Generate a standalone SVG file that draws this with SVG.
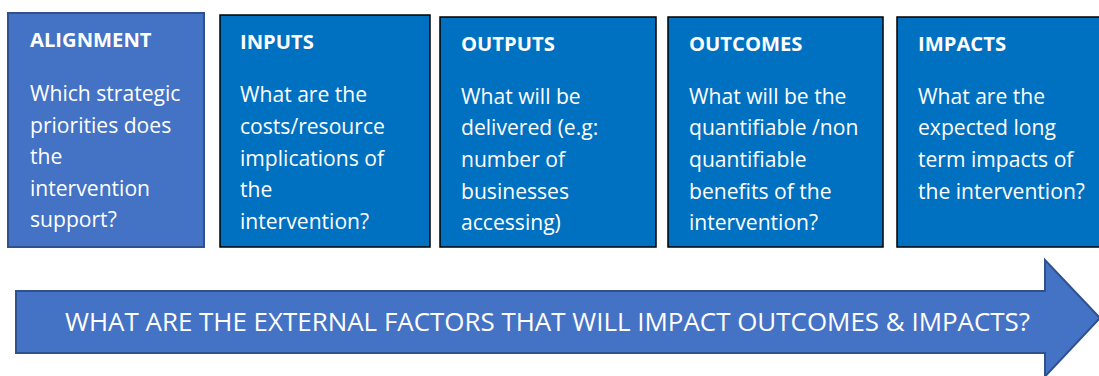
<svg xmlns="http://www.w3.org/2000/svg" width="1099" height="376" viewBox="0 0 1099 376">
<style>
.bg{fill:#ffffff}
.box{fill:#0070C0;stroke:#000000;stroke-width:1.5}
.box-align{fill:#4472C4;stroke:#2F528F;stroke-width:2}
.arrow{fill:#4472C4;stroke:#2F528F;stroke-width:2}
.title{font-family:"Open Sans","Liberation Sans",sans-serif;font-weight:bold;font-size:20.2px;fill:#ffffff}
.body{font-family:"Open Sans","Liberation Sans",sans-serif;font-size:21.1px;fill:#ffffff}
.banner{font-family:"Open Sans","Liberation Sans",sans-serif;font-size:25px;fill:#ffffff}
</style>
<rect class="bg" x="0" y="0" width="1099" height="376"/>
<g id="alignment">
<rect class="box-align" x="8" y="13" width="196" height="234"/>
<text class="title" x="30" y="47">ALIGNMENT</text>
<text class="body" x="30" y="101">Which strategic</text>
<text class="body" x="30" y="132.5">priorities does</text>
<text class="body" x="30" y="164">the</text>
<text class="body" x="30" y="195.5">intervention</text>
<text class="body" x="30" y="227">support?</text>
</g>
<g id="inputs">
<rect class="box" x="220" y="15" width="210" height="232"/>
<text class="title" x="240" y="49">INPUTS</text>
<text class="body" x="240" y="102">What are the</text>
<text class="body" x="240" y="133.5">costs/resource</text>
<text class="body" x="240" y="165.5">implications of</text>
<text class="body" x="240" y="197">the</text>
<text class="body" x="240" y="229">intervention?</text>
</g>
<g id="outputs">
<rect class="box" x="440" y="17" width="216" height="230"/>
<text class="title" x="461" y="51">OUTPUTS</text>
<text class="body" x="461" y="103.5">What will be</text>
<text class="body" x="461" y="135">delivered (e.g:</text>
<text class="body" x="461" y="166.5">number of</text>
<text class="body" x="461" y="198.5">businesses</text>
<text class="body" x="461" y="230">accessing)</text>
</g>
<g id="outcomes">
<rect class="box" x="668" y="17" width="215" height="230"/>
<text class="title" x="689" y="51">OUTCOMES</text>
<text class="body" x="689" y="103.5">What will be the</text>
<text class="body" x="689" y="135">quantifiable /non</text>
<text class="body" x="689" y="166.5">quantifiable</text>
<text class="body" x="689" y="198.5">benefits of the</text>
<text class="body" x="689" y="230">intervention?</text>
</g>
<g id="impacts">
<rect class="box" x="897" y="17" width="215" height="230"/>
<text class="title" x="918" y="51">IMPACTS</text>
<text class="body" x="918" y="103.5">What are the</text>
<text class="body" x="918" y="135">expected long</text>
<text class="body" x="918" y="166.5">term impacts of</text>
<text class="body" x="918" y="198.5">the intervention?</text>
</g>
<g id="connectors">
<path class="arrow" d="M16,291 L1045,291 L1045,260 L1100,318 L1045,376.5 L1045,353 L16,353 Z"/>
<text class="banner" x="65" y="331" textLength="965" lengthAdjust="spacingAndGlyphs">WHAT ARE THE EXTERNAL FACTORS THAT WILL IMPACT OUTCOMES &amp; IMPACTS?</text>
</g>
</svg>
